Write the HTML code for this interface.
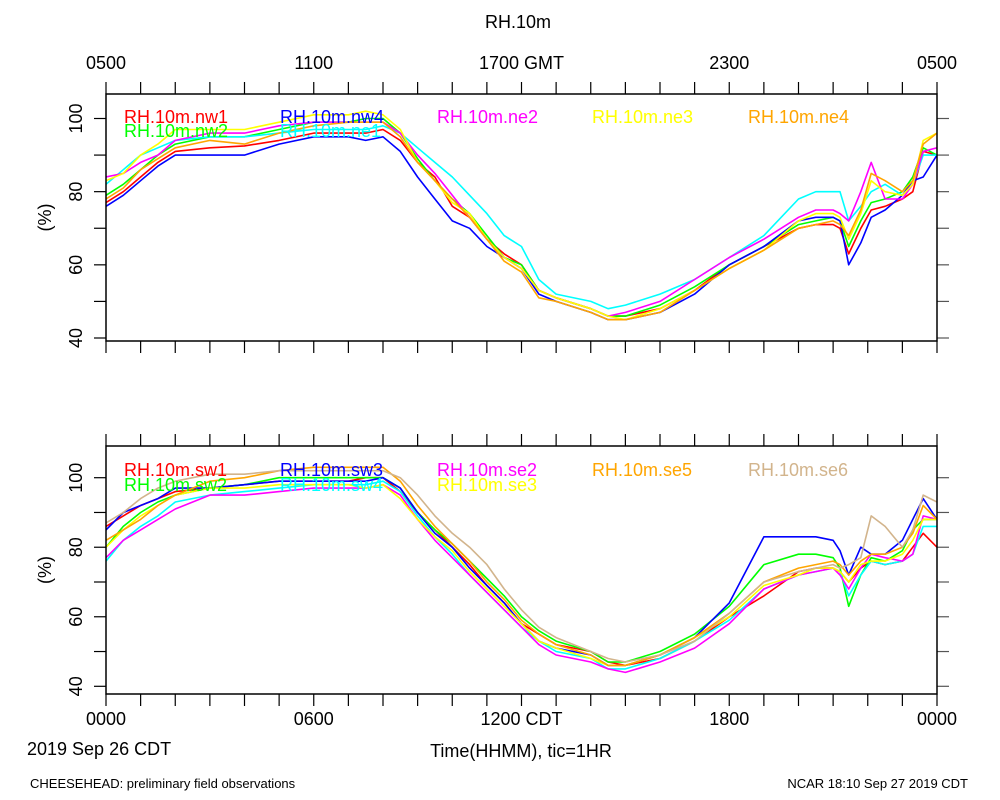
<!DOCTYPE html>
<html><head><meta charset="utf-8"><style>
html,body{margin:0;padding:0;background:#fff;}
svg{display:block;font-family:"Liberation Sans",sans-serif;}
</style></head><body>
<svg id="chart" width="1000" height="800" viewBox="0 0 1000 800">
<text x="518" y="28" font-size="18" text-anchor="middle">RH.10m</text>
<text x="521" y="757" font-size="18" text-anchor="middle">Time(HHMM), tic=1HR</text>
<text x="27" y="755" font-size="18">2019 Sep 26 CDT</text>
<text x="30" y="788" font-size="13">CHEESEHEAD: preliminary field observations</text>
<text x="968" y="788" font-size="13" text-anchor="end">NCAR 18:10 Sep 27 2019 CDT</text>
<g id="top"></g>
<g id="bot"></g>
</svg>
<script>
const times=[0,0.5,1,1.5,2,3,4,5,6,7,7.5,8,8.5,9,9.5,10,10.5,11,11.5,12,12.5,13,14,14.5,15,16,17,18,19,20,20.5,21,21.2,21.45,21.8,22.1,22.5,23,23.3,23.6,24];
const topNames=["RH.10m.nw1","RH.10m.nw2","RH.10m.nw4","RH.10m.ne1","RH.10m.ne2","RH.10m.ne3","RH.10m.ne4"];
const topColors=["#ff0000","#00ff00","#0000ff","#00ffff","#ff00ff","#ffff00","#ffa500"];
const nw1=[77,80,84,88,91,92,92.5,94,96,96,96,97,94,88,84,76,73,67,63,60,53,51,48,46,46,48,53,60,65,70,71,71,70,63,70,75,76,78,80,91,90];
const nw2=[79,82,86,90,93,95,95,97,99,99,100,100,96,89,83,78,74,68,62,60,53,51,48,46,46,49,54,60,65,71,72,73,72,65,72,77,78,80,84,92,90];
const nw4=[76,79,83,87,90,90,90,93,95,95,94,95,91,84,78,72,70,65,62,59,52,50,47,45,45,47,52,60,65,72,73,73,72,60,66,73,75,79,83,84,90];
const ne1=[82,86,90,92,94,95,95,96,97,97,97,98,96,92,88,84,79,74,68,65,56,52,50,48,49,52,56,62,68,78,80,80,80,72,76,80,82,79,82,90,90];
const ne2=[84,85,88,90,94,96,96,98,99,99,99,99,96,90,85,79,73,67,62,59,53,51,48,46,47,50,56,62,67,73,75,75,74,72,80,88,78,78,82,91,92];
const ne3=[83,85,90,93,97,97,97,99,101,101,102,101,97,88,83,77,74,67,62,59,53,51,48,46,45,48,53,59,64,72,74,74,73,67,74,83,80,79,82,94,96];
const ne4=[78,81,86,89,92,94,93,96,98,99,99,99,95,88,83,78,73,67,61,58,51,50,47,45,45,47,53,59,64,70,71,72,71,68,75,85,83,80,83,93,96];
const botNames=["RH.10m.sw1","RH.10m.sw2","RH.10m.sw3","RH.10m.sw4","RH.10m.se2","RH.10m.se3","RH.10m.se5","RH.10m.se6"];
const botColors=["#ff0000","#00ff00","#0000ff","#00ffff","#ff00ff","#ffff00","#ffa500","#d2b48c"];
const sw1=[86,89,92,94,96,97,98,99,99,99,100,100,96,90,85,80,75,69,64,58,55,52,50,47,46,48,53,60,66,73,74,74,73,70,74,76,75,76,80,84,80];
const sw2=[80,86,90,93,95,97,98,100,100,100,100,100,97,90,85,81,76,71,66,60,56,53,50,47,47,50,55,63,75,78,78,77,74,63,72,77,76,79,85,88,88];
const sw3=[85,90,92,94,97,97,98,99,99,99,99,100,97,90,84,80,74,69,64,58,53,51,49,46,46,49,54,64,83,83,83,82,79,72,80,78,78,82,88,94,88];
const sw4=[76,82,86,89,93,95,96,97,98,98,98,99,96,89,83,78,72,67,62,57,53,50,48,45,45,48,53,59,68,72,73,74,73,66,72,76,75,76,78,86,86];
const se2=[77,82,85,88,91,95,95,96,97,97,97,98,95,88,82,77,72,67,62,57,52,49,47,45,44,47,51,58,68,72,73,74,72,68,74,78,77,76,78,89,88];
const se3=[80,85,89,92,95,97,97,98,98,98,97,98,94,88,83,79,73,68,63,58,53,51,48,46,46,49,54,60,69,72,74,74,73,70,75,76,76,78,82,88,88];
const se5=[82,85,88,92,95,99,100,102,103,103,103,103,99,92,86,81,76,70,65,59,55,52,49,46,46,49,54,61,70,74,75,76,75,72,76,78,78,80,84,92,88];
const se6=[87,90,94,97,99,101,101,102,102,102,102,102,100,95,89,84,80,75,68,62,57,54,50,48,47,49,53,61,70,73,74,75,74,75,77,89,86,80,85,95,93];
const yTicks=[40,60,80,100];
const topXLabels=["0500","1100","1700 GMT","2300","0500"];
const botXLabels=["0000","0600","1200 CDT","1800","0000"];

const NS="http://www.w3.org/2000/svg";
function mk(tag,parent,attrs){const e=document.createElementNS(NS,tag);for(const k in attrs)e.setAttribute(k,attrs[k]);parent.appendChild(e);return e;}
const L=106,R=937;
function xs(t){return L+(t/24)*(R-L);}
function panel(g,top,bot,y100,y40,names,colors,series,xlabels,labelY,legendPos,pfx){
  const ys=v=>y40+(v-40)*(y100-y40)/60;
  const cid="clip"+pfx;
  const cp=mk("clipPath",g,{id:cid});
  mk("rect",cp,{x:L,y:top,width:R-L,height:bot-top});
  for(let h=0;h<=24;h++){
    const x=xs(h);
    let t=mk("line",g,{x1:x,x2:x,y1:top-12,y2:top,stroke:"#000","stroke-width":1.2});
    
    
    t=mk("line",g,{x1:x,x2:x,y1:bot,y2:bot+12,stroke:"#000","stroke-width":1.2});
    
    
  }
  for(let v=40;v<=100;v+=10){
    const y=ys(v);
    let t=mk("line",g,{x1:L-12,x2:L,y1:y,y2:y,stroke:"#000","stroke-width":1.2});
    
    
    t=mk("line",g,{x1:R,x2:R+12,y1:y,y2:y,stroke:"#555","stroke-width":1.2});
    
    
  }
  yTicks.forEach(v=>{
    const y=ys(v);
    const t=mk("text",g,{x:82,y:y,"font-size":18,"text-anchor":"middle",transform:`rotate(-90 82 ${y})`});
    
    
    t.textContent=v;
  });
  const yl=mk("text",g,{x:51,y:(top+bot)/2,"font-size":18,"text-anchor":"middle",transform:`rotate(-90 51 ${(top+bot)/2})`});
  
  
  yl.textContent="(%)";
  xlabels.forEach((s,i)=>{
    const t=mk("text",g,{x:xs(i*6),y:labelY,"font-size":18,"text-anchor":"middle"});
    
    
    t.textContent=s;
  });
  const lg=mk("g",g,{"clip-path":`url(#${cid})`});
  series.forEach((arr,si)=>{
    const d=arr.map((v,i)=>(i?"L":"M")+xs(times[i]).toFixed(1)+","+ys(v).toFixed(1)).join("");
    const p=mk("path",lg,{d:d,fill:"none",stroke:colors[si],"stroke-width":1.6,"stroke-linejoin":"round"});
    
    
  });
  names.forEach((n,i)=>{
    const t=mk("text",g,{x:legendPos[i][0],y:legendPos[i][1],"font-size":18,fill:colors[i]});
    
    
    t.textContent=n;
  });
  const fr=mk("rect",g,{x:L,y:top,width:R-L,height:bot-top,fill:"none",stroke:"#000","stroke-width":1.5});
  
  
}
panel(document.getElementById("top"),94,341,118.5,338,topNames,topColors,[nw1,nw2,nw4,ne1,ne2,ne3,ne4],topXLabels,69,
 [[124,123],[124,137],[280,123],[280,137],[437,123],[592,123],[748,123]],"t");
panel(document.getElementById("bot"),446,694,477.7,686.3,botNames,botColors,[sw1,sw2,sw3,sw4,se2,se3,se5,se6],botXLabels,725,
 [[124,476],[124,491],[280,476],[280,491],[437,476],[437,491],[592,476],[748,476]],"b");
</script>
</body></html>
